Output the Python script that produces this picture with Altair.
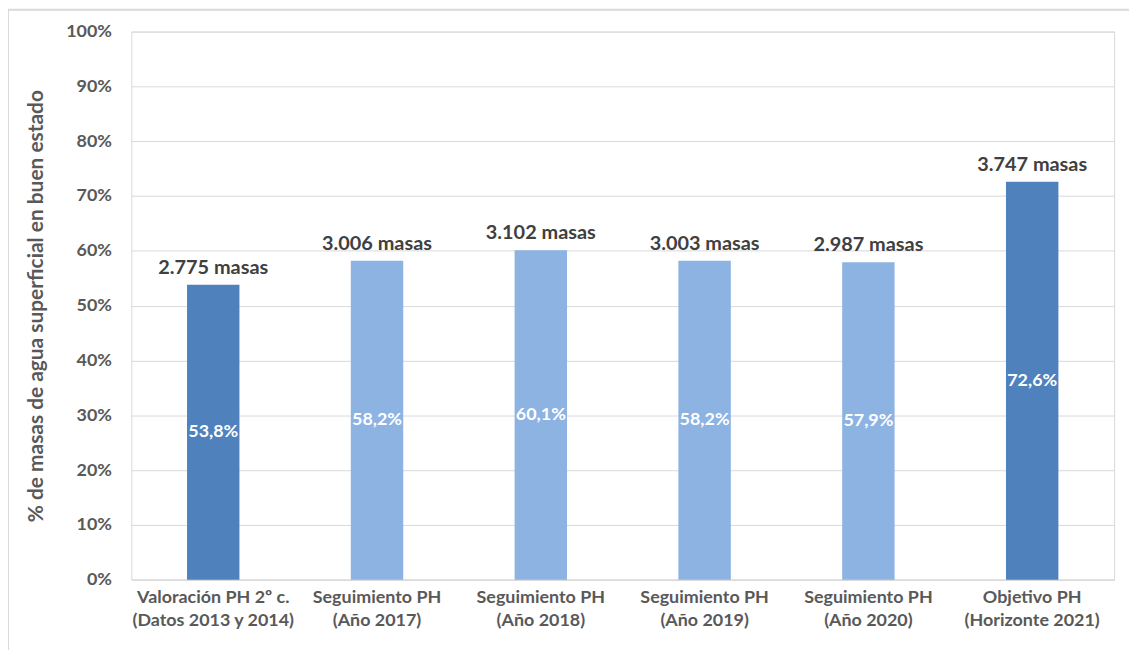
import altair as alt
import pandas as pd

categories = [
    "Valoración PH 2º c.|(Datos 2013 y 2014)",
    "Seguimiento PH|(Año 2017)",
    "Seguimiento PH|(Año 2018)",
    "Seguimiento PH|(Año 2019)",
    "Seguimiento PH|(Año 2020)",
    "Objetivo PH|(Horizonte 2021)",
]
values = [53.8, 58.2, 60.1, 58.2, 57.9, 72.6]
inner_labels = ["53,8%", "58,2%", "60,1%", "58,2%", "57,9%", "72,6%"]
top_labels = ["2.775 masas", "3.006 masas", "3.102 masas", "3.003 masas", "2.987 masas", "3.747 masas"]
kind = ["dark", "light", "light", "light", "light", "dark"]

df = pd.DataFrame({
    "cat": categories,
    "val": values,
    "half": [v / 2 for v in values],
    "inner": inner_labels,
    "top": top_labels,
    "kind": kind,
})

FONT = "Lato"
W, H = 988, 551

x = alt.X("cat:N", sort=categories, title=None,
          scale=alt.Scale(paddingInner=0.68, paddingOuter=0.34),
          axis=alt.Axis(labelExpr="split(datum.label, '|')", labelAngle=0,
                        labelFont=FONT, labelFontSize=18, labelFontWeight="bold",
                        labelColor="#595959", labelPadding=9, labelLineHeight=23,
                        ticks=False, domainColor="#D9D9D9"))

base = alt.Chart(df)

bars = base.mark_bar().encode(
    x=x,
    y=alt.Y("val:Q", scale=alt.Scale(domain=[0, 100]),
            title="% de masas de agua superficial en buen estado",
            axis=alt.Axis(values=list(range(0, 101, 10)), labelExpr="datum.value + '%'",
                          labelFont=FONT, labelFontSize=18, labelFontWeight="bold",
                          labelColor="#595959", labelPadding=20, ticks=False,
                          domain=False, gridColor="#D9D9D9",
                          titleFont=FONT, titleFontSize=21, titleFontWeight="bold",
                          titleColor="#595959", titlePadding=19)),
    color=alt.Color("kind:N", scale=alt.Scale(domain=["dark", "light"],
                                              range=["#4F81BD", "#8DB3E2"]), legend=None),
)

inner = base.mark_text(font=FONT, fontSize=18, fontWeight="bold", color="white").encode(
    x=alt.X("cat:N", sort=categories),
    y=alt.Y("half:Q"),
    text="inner:N",
)

top = base.mark_text(font=FONT, fontSize=20, fontWeight="bold", color="#404040",
                     baseline="bottom", dy=-7).encode(
    x=alt.X("cat:N", sort=categories),
    y=alt.Y("val:Q"),
    text="top:N",
)

border_top = base.mark_rule(stroke="#D9D9D9", strokeWidth=2, clip=False).encode(
    x=alt.value(-125), x2=alt.value(W + 40), y=alt.value(-22)
).transform_aggregate(n="count()")

border_left = base.mark_rule(stroke="#D9D9D9", strokeWidth=2, clip=False).encode(
    x=alt.value(-124), y=alt.value(-22), y2=alt.value(H + 80)
).transform_aggregate(n="count()")

chart = alt.layer(bars, inner, top, border_top, border_left).properties(
    width=W, height=H,
    padding={"left": 124, "top": 22, "right": 15, "bottom": 70},
    autosize=alt.AutoSizeParams(type="none"),
    background="white",
).configure_view(stroke="#D9D9D9")

chart.save("out.html", embed_options={"renderer": "svg", "actions": False})
